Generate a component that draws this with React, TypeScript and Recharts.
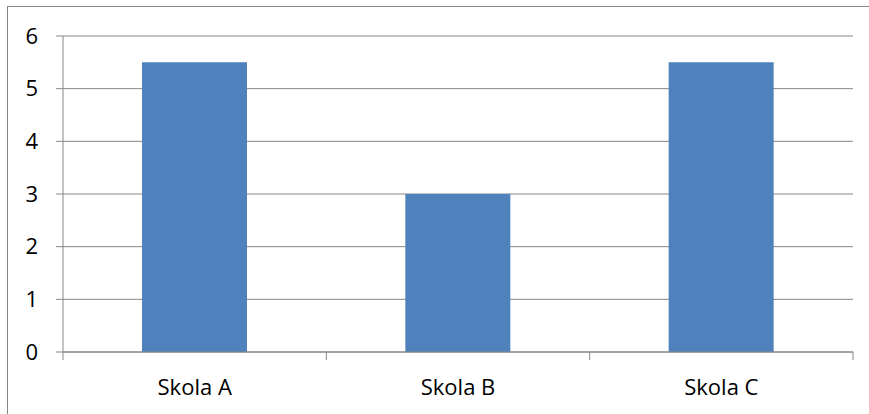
import React from "react";
import { BarChart, Bar, XAxis, YAxis, CartesianGrid } from "recharts";

// Schools and their values
const schools = ["Skola A", "Skola B", "Skola C"];
const values = [5.5, 3, 5.5];
const yTicks = [0, 1, 2, 3, 4, 5, 6];
const boundaryTicks = [0, 1, 2, 3];

const data = schools.map((name, i) => ({ name, value: values[i] }));

const LINE = "#868686";
const FONT = "'Open Sans', sans-serif";

const NoLabel = () => <g />;

export default function App() {
  return (
    <div
      style={{
        position: "absolute",
        left: 0,
        top: 0,
        width: 869,
        height: 414,
        overflow: "hidden",
        background: "#fff",
      }}
    >
      <div
        style={{
          position: "absolute",
          left: 7,
          top: 6,
          width: 900,
          height: 450,
          border: `1px solid ${LINE}`,
        }}
      />
      <div style={{ position: "absolute", left: 0, top: 0 }}>
        <BarChart
          width={869}
          height={414}
          data={data}
          margin={{ top: 36, right: 16, bottom: 0, left: 0 }}
          barCategoryGap="30%"
        >
          <CartesianGrid horizontal vertical={false} stroke={LINE} strokeWidth={1} />
          {/* numeric axis spanning the categories, ticks on their boundaries */}
          <XAxis
            xAxisId="boundary"
            type="number"
            dataKey={() => 0}
            domain={[0, schools.length]}
            allowDataOverflow
            ticks={boundaryTicks}
            interval={0}
            height={1}
            tick={NoLabel}
            tickSize={8}
            axisLine={{ stroke: LINE }}
            tickLine={{ stroke: LINE }}
          />
          <XAxis
            xAxisId="category"
            dataKey="name"
            type="category"
            height={61}
            axisLine={false}
            tickLine={false}
            tickSize={0}
            tickMargin={26}
            tick={{ fill: "#000", fontSize: 22, fontFamily: FONT }}
          />
          <YAxis
            domain={[0, 6]}
            ticks={yTicks}
            width={63}
            tickSize={7}
            tickMargin={18}
            interval={0}
            axisLine={{ stroke: LINE }}
            tickLine={{ stroke: LINE }}
            tick={{ fill: "#000", fontSize: 22, fontFamily: FONT }}
          />
          <Bar
            xAxisId="category"
            dataKey="value"
            fill="#4F81BD"
            isAnimationActive={false}
          />
        </BarChart>
      </div>
    </div>
  );
}
